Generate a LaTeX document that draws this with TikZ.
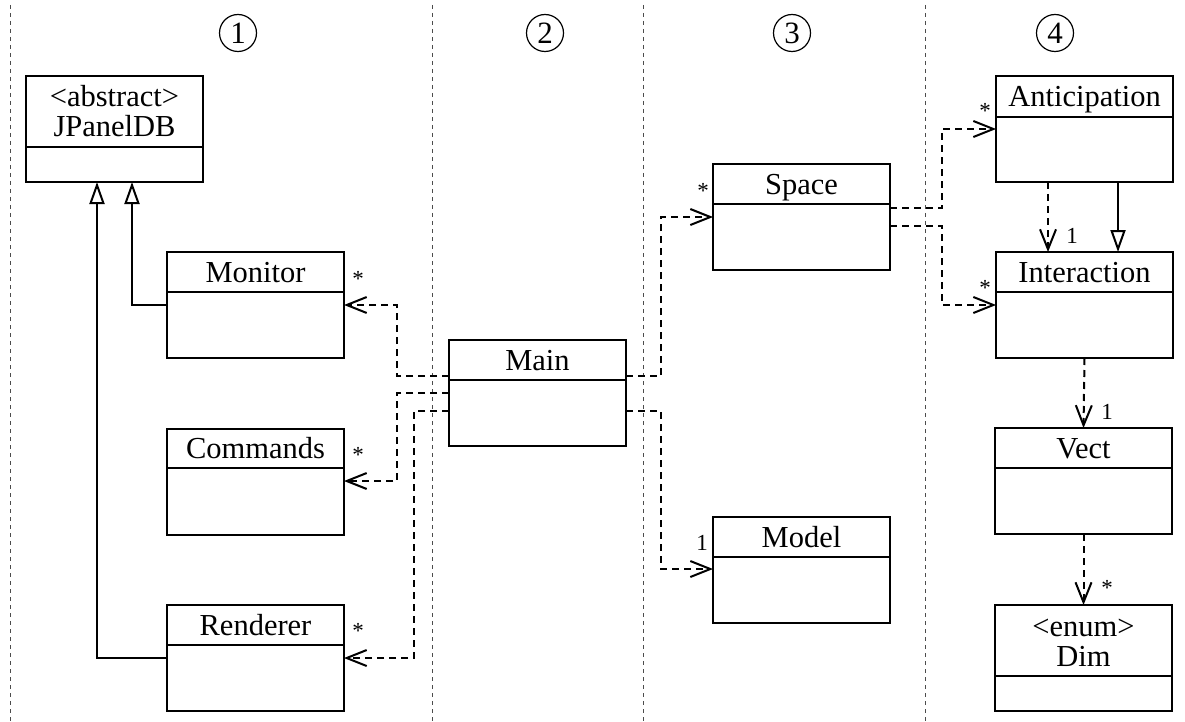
\documentclass[tikz,border=0pt]{standalone}
\usepackage{fontspec}
\setmainfont{Liberation Serif}
\usetikzlibrary{arrows.meta,calc}
\tikzset{
  cls/.style={draw, line width=2.4pt, minimum width=177pt, minimum height=106pt,
    anchor=north west, inner sep=0pt, outer sep=0pt},
  clsline/.style={line width=2.4pt},
  ttl/.style={anchor=base, inner sep=0pt, font=\fontsize{30.5}{36}\selectfont},
  lbl/.style={inner sep=0pt, font=\fontsize{23}{25}\selectfont},
  circ/.style={circle, draw, line width=1.2pt, minimum size=37pt, inner sep=0pt,
    font=\fontsize{31}{33}\selectfont},
  sep/.style={line width=1pt, black!70, dash pattern=on 4pt off 4pt},
  dep/.style={line width=2pt, dash pattern=on 7pt off 5pt,
    -{Straight Barb[length=20pt,width=16pt]}},
  gen/.style={line width=2pt, -{Triangle[open,length=22pt,width=15pt]}},
}
\newcommand\mkclass[5]{%
  \node[cls] (#1) at (#2,#3) {};
  \draw[clsline] ([yshift=-#4pt]#1.north west) -- ([yshift=-#4pt]#1.north east);
  \node[ttl] (#1-t) at ([yshift=-#4pt+10pt]#1.north) {#5};
}
\begin{document}
\begin{tikzpicture}[x=1pt,y=-1pt]
\useasboundingbox (0,0) rectangle (1185,722);
% separators
\draw[sep] (10,5) -- (10,722);
\draw[sep] (432,5) -- (432,722);
\draw[sep] (643,5) -- (643,722);
\draw[sep] (925,5) -- (925,722);
% column numbers
\node[circ] (c1) at (238,33) {1};
\node[circ] (c2) at (545,33) {2};
\node[circ] (c3) at (792,33) {3};
\node[circ] (c4) at (1055,33) {4};
% classes
\mkclass{jpanel}{26}{76}{71}{JPanelDB}
\node[ttl] (jpanel-s) at ([yshift=30pt]jpanel-t.base) {<abstract>};
\mkclass{monitor}{167}{252}{40}{Monitor}
\mkclass{commands}{167}{429}{39}{Commands}
\mkclass{renderer}{167}{605}{40}{Renderer}
\mkclass{main}{449}{340}{40}{Main}
\mkclass{space}{713}{164}{40}{Space}
\mkclass{model}{713}{517}{40}{Model}
\mkclass{anticipation}{996}{76}{41}{Anticipation}
\mkclass{interaction}{996}{252}{40}{Interaction}
\mkclass{vect}{995}{428}{40}{Vect}
\mkclass{dim}{995}{605}{71}{Dim}
\node[ttl] (dim-s) at ([yshift=30pt]dim-t.base) {<enum>};
% generalizations
\draw[gen] ([yshift=-53pt]monitor.north west) -| ([xshift=106pt]jpanel.south west);
\draw[gen] ([yshift=-53pt]renderer.north west) -| ([xshift=71pt]jpanel.south west);
\draw[gen] ([xshift=122pt]anticipation.south west) -- ([xshift=122pt]interaction.north west);
% dependencies
\draw[dep] ([yshift=-36pt]main.north west) -- ++(-52,0) |- ([yshift=-53pt]monitor.north east);
\draw[dep] ([yshift=-53pt]main.north west) -- ++(-52,0) |- ([yshift=-52pt]commands.north east);
\draw[dep] ([yshift=-71pt]main.north west) -- ++(-35,0) |- ([yshift=-53pt]renderer.north east);
\draw[dep] ([yshift=-36pt]main.north east) -- ++(35,0) |- ([yshift=-53pt]space.north west);
\draw[dep] ([yshift=-71pt]main.north east) -- ++(35,0) |- ([yshift=-52pt]model.north west);
\draw[dep] ([yshift=-44pt]space.north east) -- ++(52,0) |- ([yshift=-53pt]anticipation.north west);
\draw[dep] ([yshift=-62pt]space.north east) -- ++(52,0) |- ([yshift=-53pt]interaction.north west);
\draw[dep] ([xshift=52pt]anticipation.south west) -- ([xshift=52pt]interaction.north west);
\draw[dep] (interaction.south) -- (vect.north);
\draw[dep] (vect.south) -- (dim.north);
% multiplicities
\node[lbl] (m1) at (358,279) {*};
\node[lbl] (m2) at (358,455) {*};
\node[lbl] (m3) at (358,631) {*};
\node[lbl] (m4) at (703,191) {*};
\node[lbl] (m5) at (702,543) {1};
\node[lbl] (m6) at (985,111) {*};
\node[lbl] (m7) at (985,288) {*};
\node[lbl] (m8) at (1072,236) {1};
\node[lbl] (m9) at (1107,412) {1};
\node[lbl] (m10) at (1107,588) {*};
\end{tikzpicture}
\end{document}
